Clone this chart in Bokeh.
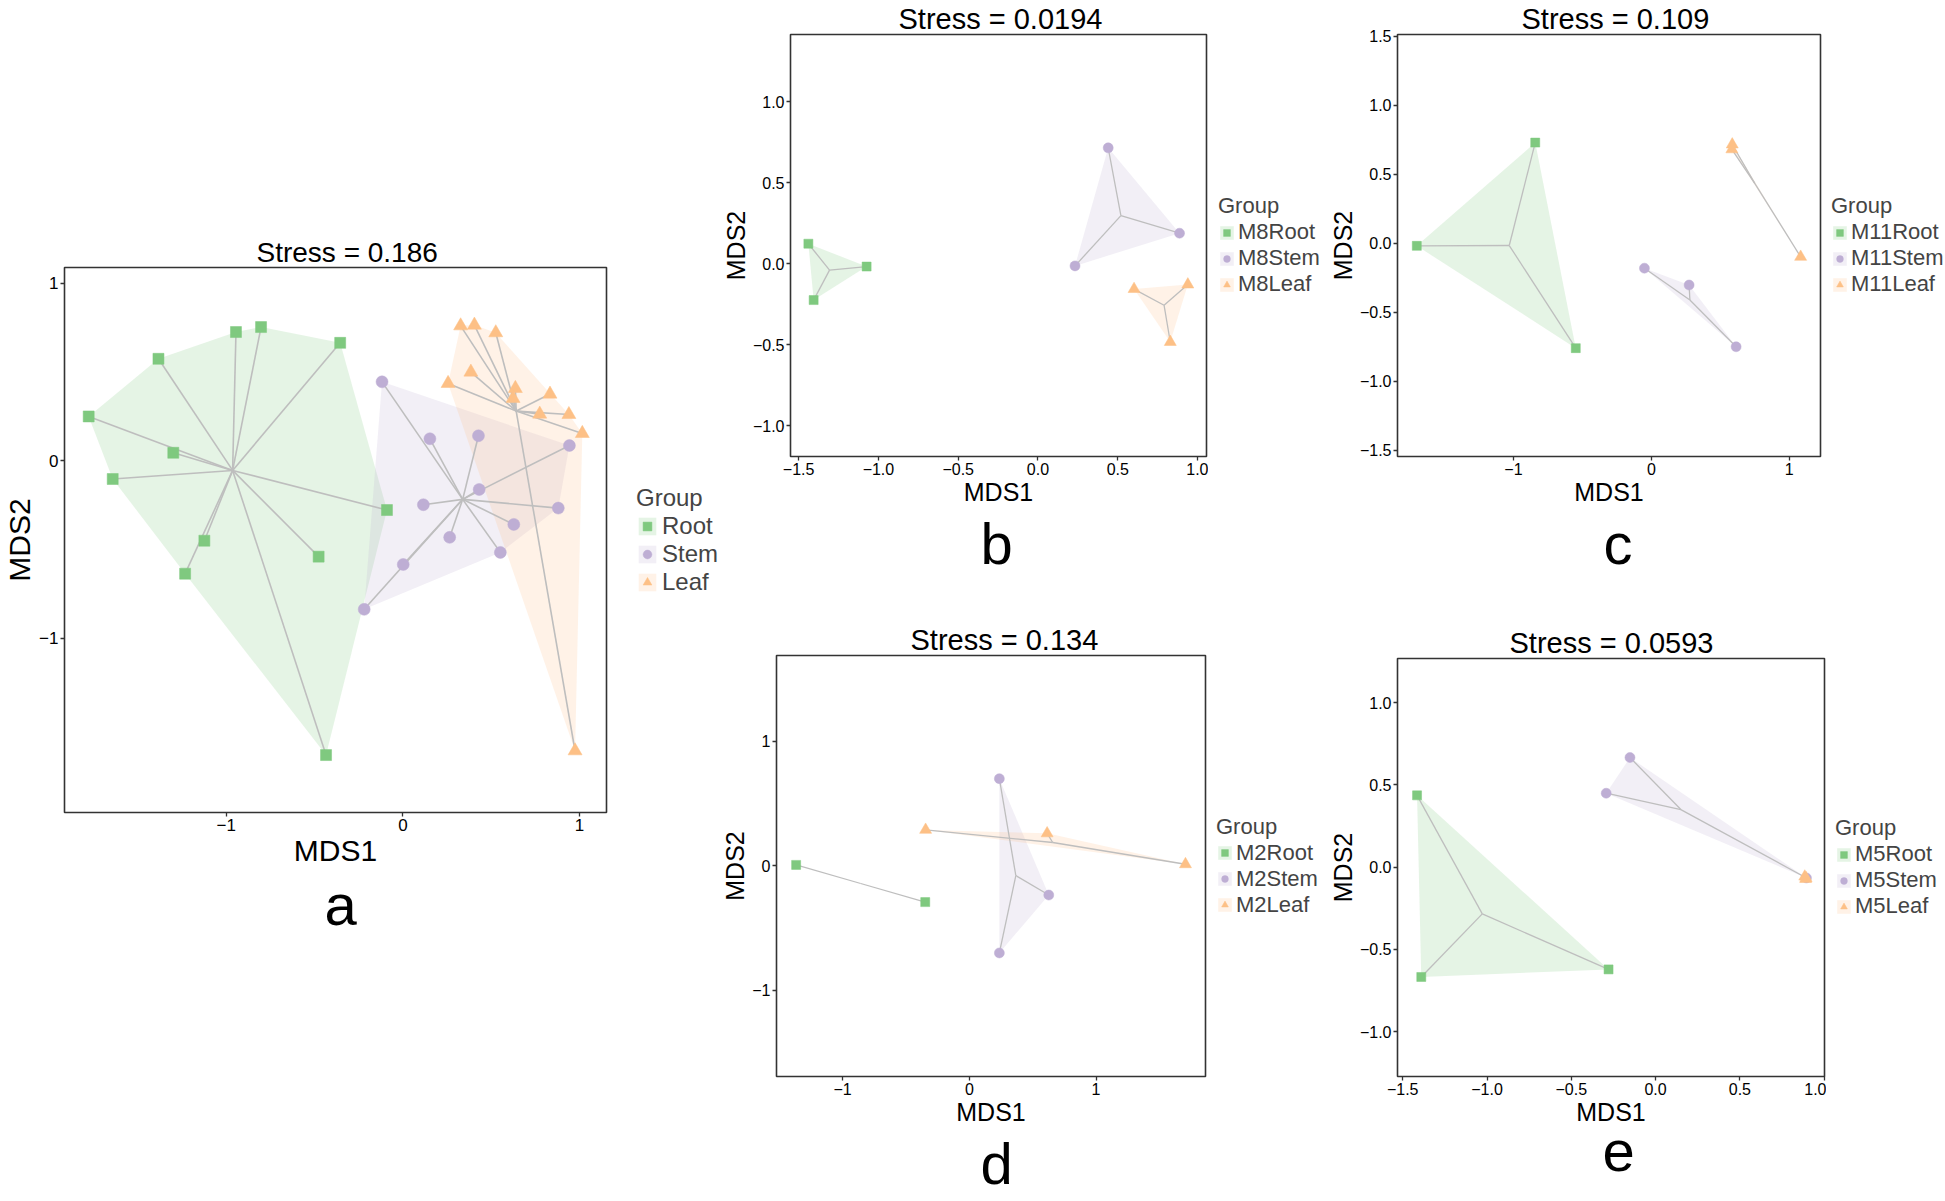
from bokeh.plotting import figure
from bokeh.models import Range1d, FixedTicker, Legend, LegendItem, Title
from bokeh.layouts import row, column
from bokeh.embed import file_html
from bokeh.resources import INLINE

FONT = "Liberation Sans"
GROUPS = ["Root", "Stem", "Leaf"]
COLORS = {"Root": "#7FC97F", "Stem": "#BEAED4", "Leaf": "#FDC086"}
MARKERS = {"Root": "square", "Stem": "circle", "Leaf": "triangle"}
SPIDER = "#BEBEBE"
FRAME = "#333333"

# ---------------- data ----------------
# panel a : all samples
A_ROOT_X = [-1.779, -1.300, -1.643, -1.384, -0.945, -0.803, -0.355, -0.090, -1.124, -1.233, -0.477, -0.435]
A_ROOT_Y = [0.250, 0.045, -0.103, 0.575, 0.726, 0.754, 0.665, -0.278, -0.451, -0.637, -0.541, -1.660]
A_STEM_X = [-0.118, 0.153, 0.428, 0.432, 0.116, 0.943, 0.880, 0.628, 0.265, 0.552, 0.002, -0.219]
A_STEM_Y = [0.445, 0.124, 0.141, -0.162, -0.248, 0.086, -0.267, -0.359, -0.432, -0.517, -0.585, -0.838]
A_LEAF_X = [0.327, 0.405, 0.526, 0.385, 0.256, 0.637, 0.624, 0.833, 0.775, 0.940, 1.016, 0.975]
A_LEAF_Y = [0.761, 0.765, 0.722, 0.500, 0.436, 0.408, 0.352, 0.376, 0.263, 0.261, 0.154, -1.636]
A_LABELS = ["Root", "Stem", "Leaf"]
A_TITLE = "Stress = 0.186"

# panel b : M8
B_ROOT_X = [-1.439, -1.074, -1.406]
B_ROOT_Y = [0.123, -0.018, -0.225]
B_STEM_X = [0.440, 0.887, 0.232]
B_STEM_Y = [0.715, 0.188, -0.014]
B_LEAF_X = [0.602, 0.939, 0.829]
B_LEAF_Y = [-0.157, -0.129, -0.484]
B_LABELS = ["M8Root", "M8Stem", "M8Leaf"]
B_TITLE = "Stress = 0.0194"

# panel c : M11
C_ROOT_X = [-1.701, -0.842, -0.548]
C_ROOT_Y = [-0.019, 0.730, -0.761]
C_STEM_X = [-0.050, 0.274, 0.615]
C_STEM_Y = [-0.181, -0.303, -0.751]
C_LEAF_X = [0.587, 0.584, 1.083]
C_LEAF_Y = [0.716, 0.681, -0.099]
C_LABELS = ["M11Root", "M11Stem", "M11Leaf"]
C_TITLE = "Stress = 0.109"

# panel d : M2
D_ROOT_X = [-1.367, -0.348]
D_ROOT_Y = [0.006, -0.293]
D_STEM_X = [0.237, 0.627, 0.237]
D_STEM_Y = [0.698, -0.236, -0.701]
D_LEAF_X = [-0.345, 0.614, 1.706]
D_LEAF_Y = [0.287, 0.259, 0.011]
D_LABELS = ["M2Root", "M2Stem", "M2Leaf"]
D_TITLE = "Stress = 0.134"

# panel e : M5
E_ROOT_X = [-1.415, -1.390, -0.279]
E_ROOT_Y = [0.436, -0.668, -0.622]
E_STEM_X = [-0.152, -0.293, 0.895]
E_STEM_Y = [0.666, 0.449, -0.066]
E_LEAF_X = [0.885, 0.893, 0.890]
E_LEAF_Y = [-0.058, -0.068, -0.072]
E_LABELS = ["M5Root", "M5Stem", "M5Leaf"]
E_TITLE = "Stress = 0.0593"

# tick values and labels
TICKS_INT = [-1, 0, 1]
LABELS_INT = ["\u22121", "0", "1"]
TICKS_B_X = [-1.5, -1.0, -0.5, 0.0, 0.5, 1.0]
LABELS_B_X = ["\u22121.5", "\u22121.0", "\u22120.5", "0.0", "0.5", "1.0"]
TICKS_B_Y = [-1.0, -0.5, 0.0, 0.5, 1.0]
LABELS_B_Y = ["\u22121.0", "\u22120.5", "0.0", "0.5", "1.0"]
TICKS_C_Y = [-1.5, -1.0, -0.5, 0.0, 0.5, 1.0, 1.5]
LABELS_C_Y = ["\u22121.5", "\u22121.0", "\u22120.5", "0.0", "0.5", "1.0", "1.5"]


def convex_hull(xs, ys):
    pts = sorted(set(zip(xs, ys)))
    if len(pts) <= 2:
        return [q[0] for q in pts], [q[1] for q in pts]

    def cross(o, a, b):
        return (a[0] - o[0]) * (b[1] - o[1]) - (a[1] - o[1]) * (b[0] - o[0])

    lower = []
    for q in pts:
        while len(lower) >= 2 and cross(lower[-2], lower[-1], q) <= 0:
            lower.pop()
        lower.append(q)
    upper = []
    for q in reversed(pts):
        while len(upper) >= 2 and cross(upper[-2], upper[-1], q) <= 0:
            upper.pop()
        upper.append(q)
    h = lower[:-1] + upper[:-1]
    return [q[0] for q in h], [q[1] for q in h]


def panel(data, labels, title, letter, width, height, borders, xr, yr,
          xticks, xlabels, yticks, ylabels, big=False, title_fs=29,
          title_off=0, letter_off=0, leg_width=112, leg_x=10, legend_font=22):
    bl, br, bt, bb = borders
    p = figure(width=width, height=height, x_range=Range1d(*xr), y_range=Range1d(*yr),
               output_backend="svg", toolbar_location=None,
               min_border_left=bl, min_border_right=br, min_border_top=bt, min_border_bottom=bb,
               background_fill_color="white", border_fill_color="white")
    p.xgrid.visible = False
    p.ygrid.visible = False
    p.outline_line_color = FRAME
    p.outline_line_width = 1.6

    tick_fs = "17px" if big else "16px"
    lab_fs = "30px" if big else "25px"
    for ax, lab, ticks, tl in ((p.xaxis[0], "MDS1", xticks, xlabels),
                               (p.yaxis[0], "MDS2", yticks, ylabels)):
        ax.axis_label = lab
        ax.axis_label_text_font = FONT
        ax.axis_label_text_font_size = lab_fs
        ax.axis_label_text_font_style = "normal"
        ax.axis_label_text_color = "black"
        ax.axis_label_standoff = 0
        ax.ticker = FixedTicker(ticks=ticks)
        ax.major_label_overrides = {t: s for t, s in zip(ticks, tl)}
        ax.major_label_text_font = FONT
        ax.major_label_text_font_size = tick_fs
        ax.major_label_text_color = "black"
        ax.major_label_standoff = 2
        ax.major_tick_out = 4
        ax.major_tick_in = 0
        ax.minor_tick_out = 0
        ax.minor_tick_in = 0
        ax.major_tick_line_color = FRAME
        ax.major_tick_line_width = 1.3
        ax.axis_line_color = None

    p.title.text = title
    p.title.align = "left"
    p.title.offset = title_off
    p.title.text_font = FONT
    p.title.text_font_size = f"{title_fs}px"
    p.title.text_font_style = "normal"
    p.title.text_color = "black"
    p.title.standoff = 0

    msize = {"Root": 11, "Stem": 12, "Leaf": 14} if big else {"Root": 9, "Stem": 10, "Leaf": 12}
    lw = 1.6 if big else 1.3

    hulls = {g: convex_hull(*data[g]) for g in GROUPS}
    for g in GROUPS:
        hx, hy = hulls[g]
        p.patch(hx, hy, fill_color=COLORS[g], fill_alpha=0.2, line_alpha=0)
    for g in GROUPS:
        xs, ys = data[g]
        cx = sum(xs) / len(xs)
        cy = sum(ys) / len(ys)
        p.segment(x0=[cx] * len(xs), y0=[cy] * len(ys), x1=xs, y1=ys,
                  line_color=SPIDER, line_width=lw)
    for g in GROUPS:
        xs, ys = data[g]
        p.scatter(xs, ys, marker=MARKERS[g], size=msize[g],
                  fill_color=COLORS[g], line_color=COLORS[g], line_width=0.5)

    lt = Title(text=letter, align="left", offset=letter_off, text_font=FONT,
               text_font_size="58px", text_font_style="normal", text_color="black", standoff=0)
    p.add_layout(lt, "below")

    # legend lives in its own narrow figure whose frame spans the same rows as the
    # plot frame; its renderers draw the same data but the ranges keep them out of view
    lf = figure(width=leg_width, height=height, x_range=Range1d(100, 101), y_range=Range1d(100, 101),
                output_backend="svg", toolbar_location=None,
                min_border_left=0, min_border_right=0, min_border_top=bt, min_border_bottom=bb,
                x_axis_location=None, y_axis_location=None,
                background_fill_color="white", border_fill_color="white")
    lf.outline_line_color = None
    lf.xgrid.visible = False
    lf.ygrid.visible = False
    items = []
    for g, lab in zip(GROUPS, labels):
        hx, hy = hulls[g]
        xs, ys = data[g]
        r1 = lf.patch(hx, hy, fill_color=COLORS[g], fill_alpha=0.2, line_alpha=0)
        r2 = lf.scatter(xs, ys, marker=MARKERS[g], size=msize[g],
                        fill_color=COLORS[g], line_color=COLORS[g], line_width=0.5)
        items.append(LegendItem(label=lab, renderers=[r1, r2]))
    gsize = 22 if big else 17
    leg = Legend(items=items, title="Group", location="center_left",
                 title_text_font=FONT, title_text_font_size=f"{legend_font}px",
                 title_text_font_style="normal", title_standoff=0,
                 title_text_line_height=0.8,
                 label_text_font=FONT, label_text_font_size=f"{legend_font}px",
                 label_text_line_height=0.8,
                 glyph_width=gsize, glyph_height=gsize, label_height=gsize,
                 label_standoff=4 if big else 3, spacing=0,
                 padding=0, margin=leg_x,
                 border_line_color=None, background_fill_alpha=0)
    lf.add_layout(leg, "center")
    return row(p, lf, spacing=0)


pa = panel({"Root": (A_ROOT_X, A_ROOT_Y), "Stem": (A_STEM_X, A_STEM_Y), "Leaf": (A_LEAF_X, A_LEAF_Y)},
           A_LABELS, A_TITLE, "a", 608, 1200, (62, 2, 267, 388),
           (-1.916, 1.153), (-1.984, 1.090), TICKS_INT, LABELS_INT, TICKS_INT, LABELS_INT,
           big=True, title_fs=28, title_off=192, letter_off=260, leg_width=110, leg_x=28,
           legend_font=24)

pb = panel({"Root": (B_ROOT_X, B_ROOT_Y), "Stem": (B_STEM_X, B_STEM_Y), "Leaf": (B_LEAF_X, B_LEAF_Y)},
           B_LABELS, B_TITLE, "b", 490, 596, (68, 2, 34, 140),
           (-1.551, 1.056), (-1.191, 1.415), TICKS_B_X, LABELS_B_X, TICKS_B_Y, LABELS_B_Y,
           title_off=108, letter_off=190, leg_width=117, leg_x=10)

pd_ = panel({"Root": (D_ROOT_X, D_ROOT_Y), "Stem": (D_STEM_X, D_STEM_Y), "Leaf": (D_LEAF_X, D_LEAF_Y)},
            D_LABELS, D_TITLE, "d", 489, 604, (54, 2, 59, 124),
            (-1.522, 1.864), (-1.693, 1.687), TICKS_INT, LABELS_INT, TICKS_INT, LABELS_INT,
            title_off=134, letter_off=204, leg_width=118, leg_x=9)

pc = panel({"Root": (C_ROOT_X, C_ROOT_Y), "Stem": (C_STEM_X, C_STEM_Y), "Leaf": (C_LEAF_X, C_LEAF_Y)},
           C_LABELS, C_TITLE, "c", 497, 596, (68, 2, 34, 140),
           (-1.841, 1.227), (-1.547, 1.514), TICKS_INT, LABELS_INT, TICKS_C_Y, LABELS_C_Y,
           title_off=124, letter_off=206, leg_width=123, leg_x=9)

pe = panel({"Root": (E_ROOT_X, E_ROOT_Y), "Stem": (E_STEM_X, E_STEM_Y), "Leaf": (E_LEAF_X, E_LEAF_Y)},
           E_LABELS, E_TITLE, "e", 501, 604, (68, 2, 62, 124),
           (-1.531, 1.002), (-1.273, 1.268), TICKS_B_X, LABELS_B_X, TICKS_B_Y, LABELS_B_Y,
           title_off=112, letter_off=205, leg_width=119, leg_x=9)

layout = row(pa, column(pb, pd_, spacing=0), column(pc, pe, spacing=0), spacing=0)

open("out.html", "w").write(file_html(layout, INLINE, "NMDS"))
